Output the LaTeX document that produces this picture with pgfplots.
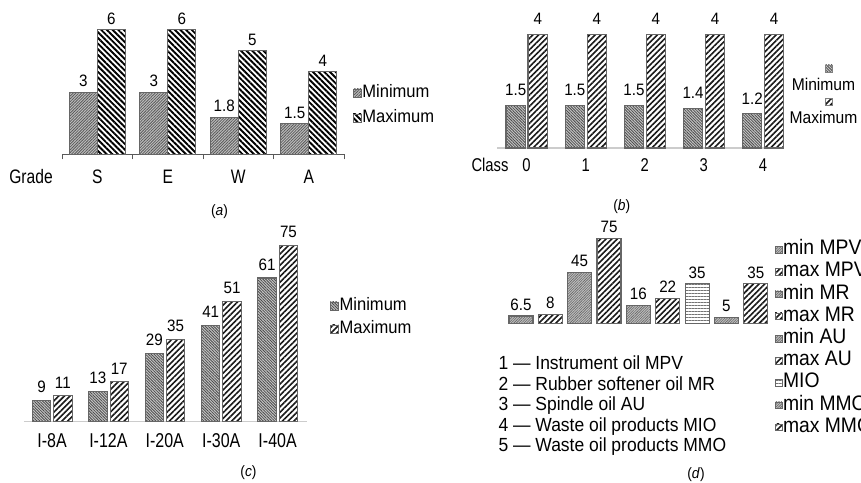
\documentclass[border=0pt]{standalone}
\usepackage{fontspec}
\setmainfont{Liberation Sans}[FakeStretch=0.92]
\newfontfamily\narrowfont{Liberation Sans}[FakeStretch=0.8]
\usepackage{pgfplots}
\pgfplotsset{compat=1.18}
\usetikzlibrary{patterns.meta}
\newcommand{\fsz}[1]{\fontsize{#1bp}{#1bp}\selectfont}
\tikzset{
 minA/.style={fill=gray!50, postaction={pattern={Lines[angle=45,distance=2bp,line width=0.8bp]}, pattern color=black!65}},
 maxA/.style={fill=white, postaction={pattern={Lines[angle=-45,distance=4bp,line width=1.9bp]}, pattern color=black}},
 minB/.style={fill=gray!45, postaction={pattern={Lines[angle=-45,distance=2bp,line width=0.8bp]}, pattern color=black!70}},
 maxB/.style={fill=white, postaction={pattern={Lines[angle=45,distance=4bp,line width=1.6bp]}, pattern color=black!90}},
 minD/.style={fill=gray!50, postaction={pattern={Lines[angle=45,distance=1.8bp,line width=0.6bp]}, pattern color=black!60}},
 mio/.style={fill=white, postaction={pattern={Lines[angle=0,distance=3bp,line width=1bp]}, pattern color=black!55}},
}
\pgfplotsset{
 panel/.style={ybar, enlargelimits=false, clip=false, axis y line=none, axis x line*=bottom,
   ymin=0, major tick length=0pt, /pgf/number format/assume math mode=true,
   nodes near coords, every node near coord/.append style={font=\fsz{16.5}, inner sep=0pt},
   every axis plot/.append style={draw=black!60, line width=1.1bp},
   legend cell align=left,
   legend style={draw=none, fill=none, inner sep=0pt, outer sep=0pt, row sep=8bp,
     nodes={inner sep=1bp, anchor=west, text height=12bp, text depth=3bp}},
 },
 sqleg/.style={legend image code/.code={\draw[##1, line width=0.6bp] (0bp,-4bp) rectangle (8bp,4bp);}},
 bleg/.style={legend image code/.code={\draw[##1, overlay, draw=black!50, line width=0.5bp] (36bp,12.5bp) rectangle (43bp,19.5bp);}},
 dleg/.style={legend image code/.code={\draw[##1, line width=0.5bp] (0bp,-3.3bp) rectangle (6.6bp,3.3bp);}},
}
\begin{document}
\begin{tikzpicture}
% ---------------- (a)
\begin{axis}[panel, sqleg, at={(62bp,328.5bp)}, anchor=south west,
  x=70.5bp, y=20.8bp, xmin=-0.5, xmax=3.5, ymax=6, bar width=28bp,
  x axis line style={draw=black!65, line width=1.3bp},
  every node near coord/.append style={yshift=4.5bp},
  xtick={0,1,2,3}, xticklabels={S,E,W,A},
  xticklabel style={anchor=base, yshift=-29.5bp, font=\narrowfont\fsz{19.5}},
  extra x ticks={-0.5,0.5,1.5,2.5,3.5}, extra x tick labels={},
  extra tick style={major tick length=5bp, tick align=outside, tick style={draw=black!65, line width=1bp}},
  legend style={at={(1.031,0.393)}, anchor=west, font=\fsz{18}}]
\addplot[minA, sqleg, bar shift=-14bp] coordinates {(0,3) (1,3) (2,1.8) (3,1.5)};
\addplot[maxA, sqleg, bar shift=14bp] coordinates {(0,6) (1,6) (2,5) (3,4)};
\legend{Minimum,Maximum}
\end{axis}
\node[anchor=base, font=\narrowfont\fsz{19.5}] at (31bp,299bp) {Grade};
\node[anchor=base, font=\fsz{15}] at (219.5bp,267.9bp) {(\textit{a})};
% ---------------- (b)
\begin{axis}[panel, bleg, at={(497bp,335bp)}, anchor=south west,
  x=59.1bp, y=28.4bp, xmin=-0.5, xmax=4.35, ymax=4, bar width=19.5bp,
  x axis line style={draw=black!20, line width=1.5bp},
  every node near coord/.append style={yshift=9bp},
  xtick={0,1,2,3,4}, xticklabels={0,1,2,3,4},
  xticklabel style={anchor=base, yshift=-23.6bp, font=\narrowfont\fsz{18.5}},
  legend cell align=center,
  legend style={at={(1.139,0.414)}, anchor=center, font=\fsz{17}, row sep=21bp, column sep=0pt,
    nodes={inner sep=0pt, anchor=center, text height=12.2bp, text depth=0bp}}]
\addplot[minB, bleg, bar shift=-10.8bp] coordinates {(0,1.5) (1,1.5) (2,1.5) (3,1.4) (4,1.2)};
\addplot[maxB, bleg, bar shift=11.2bp] coordinates {(0,4) (1,4) (2,4) (3,4) (4,4)};
\legend{Minimum,Maximum}
\end{axis}
\node[anchor=base, font=\narrowfont\fsz{18.5}] at (490bp,311.4bp) {Class};
\node[anchor=base, font=\fsz{15}] at (621.7bp,272.9bp) {(\textit{b})};
% ---------------- (c)
\begin{axis}[panel, sqleg, at={(23.8bp,61.3bp)}, anchor=south west,
  x=56.4bp, y=2.355bp, xmin=-0.5, xmax=4.52, ymax=75, bar width=18.4bp,
  x axis line style={draw=black!20, line width=1.5bp},
  every node near coord/.append style={yshift=7bp},
  xtick={0,1,2,3,4}, xticklabels={I-8A,I-12A,I-20A,I-30A,I-40A},
  xticklabel style={anchor=base, yshift=-25.5bp, font=\narrowfont\fsz{20}},
  legend style={at={(1.0816,0.590)}, anchor=west, font=\fsz{18}, row sep=6bp}]
\addplot[minB, sqleg, bar shift=-10.5bp] coordinates {(0,9) (1,13) (2,29) (3,41) (4,61)};
\addplot[maxB, sqleg, bar shift=10.85bp] coordinates {(0,11) (1,17) (2,35) (3,51) (4,75)};
\legend{Minimum,Maximum}
\end{axis}
\node[anchor=base, font=\fsz{15}] at (248.5bp,6.2bp) {(\textit{c})};
% ---------------- (d)
\begin{axis}[panel, dleg, at={(506.3bp,159.7bp)}, anchor=south west,
  x=29.35bp, y=1.13bp, xmin=-0.5, xmax=8.5, ymax=75, bar width=24bp,
  axis x line=none,
  every node near coord/.append style={yshift=5bp},
  xtick={0.44,2.49,4.46,5.86,7.6}, xticklabels={1,2,3,4,5},
  xticklabel style={anchor=base, yshift=-28.3bp, font=\narrowfont\fsz{18.5}},
  legend style={at={(1.017,-0.179)}, anchor=west, font=\fsz{21}, row sep=2.2bp,
    nodes={inner sep=1bp, anchor=west, text height=14bp, text depth=4bp}}]
\addplot[minD, dleg, bar shift=0pt] coordinates {(0,6.5)};
\addplot[maxB, dleg, bar shift=0pt] coordinates {(1,8)};
\addplot[minD, dleg, bar shift=0pt] coordinates {(2,45)};
\addplot[maxB, dleg, bar shift=0pt] coordinates {(3,75)};
\addplot[minD, dleg, bar shift=0pt] coordinates {(4,16)};
\addplot[maxB, dleg, bar shift=0pt] coordinates {(5,22)};
\addplot[mio, dleg, bar shift=0pt] coordinates {(6,35)};
\addplot[minD, dleg, bar shift=0pt] coordinates {(7,5)};
\addplot[maxB, dleg, bar shift=0pt] coordinates {(8,35)};
\legend{min MPV,max MPV,min MR,max MR,min AU,max AU,MIO,min MMO,max MMO}
\end{axis}
\begin{scope}[every node/.style={anchor=base west, font=\fsz{19}, inner sep=0pt}]
\node at (498.3bp,113bp) {1 — Instrument oil MPV};
\node at (498.3bp,92.6bp) {2 — Rubber softener oil MR};
\node at (498.3bp,72.2bp) {3 — Spindle oil AU};
\node at (498.3bp,51.8bp) {4 — Waste oil products MIO};
\node at (498.3bp,31.4bp) {5 — Waste oil products MMO};
\end{scope}
\node[anchor=base, font=\fsz{15}] at (696bp,4.5bp) {(\textit{d})};
\pgfresetboundingbox
\path[use as bounding box] (0bp,0bp) rectangle (861bp,483bp);
\end{tikzpicture}
\end{document}
